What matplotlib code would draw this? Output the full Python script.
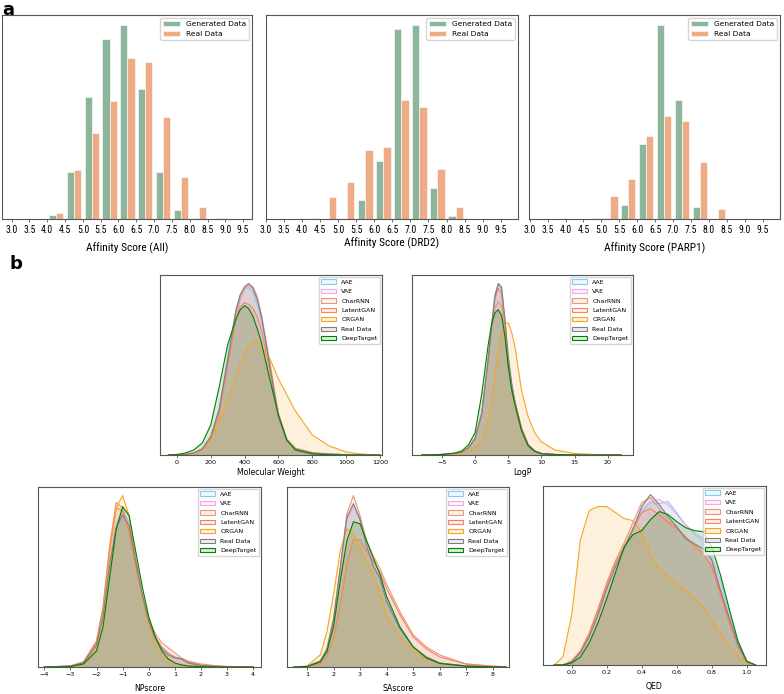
import numpy as np
import matplotlib.pyplot as plt
from matplotlib import font_manager, colors

# ---------------- panel a : affinity score histograms ----------------
# left edge of each 0.5-wide bin
bin_left = [3.0, 3.5, 4.0, 4.5, 5.0, 5.5, 6.0, 6.5, 7.0, 7.5, 8.0, 8.5, 9.0, 9.5]
all_gen = [0, 0, 13, 142, 367, 539, 582, 391, 142, 28, 3, 0, 0, 0]
all_real = [0, 0, 18, 147, 259, 355, 482, 471, 307, 126, 37, 4, 0, 0]
drd2_gen = [0, 0, 0, 0, 0, 57, 175, 568, 582, 94, 9, 0, 0, 0]
drd2_real = [0, 0, 2, 65, 112, 208, 217, 357, 336, 151, 35, 0, 0, 0]
parp1_gen = [0, 0, 0, 0, 3, 43, 226, 582, 358, 37, 0, 0, 0, 0]
parp1_real = [0, 0, 1, 4, 69, 121, 249, 309, 293, 172, 31, 0, 0, 0]
hist_ticks = [3.0, 3.5, 4.0, 4.5, 5.0, 5.5, 6.0, 6.5, 7.0, 7.5, 8.0, 8.5, 9.0, 9.5]

# ---------------- panel b : property density curves ----------------
models = ['AAE', 'VAE', 'CharRNN', 'LatentGAN', 'ORGAN', 'Real Data', 'DeepTarget']

# Molecular Weight
mw_x = [-50, 0, 50, 100, 150, 200, 250, 300, 350, 375, 400, 425, 450, 475, 500, 550, 600, 650, 700, 800, 900, 1000, 1100, 1200]
mw_aae = [0, 0, 0.5, 2, 6, 19, 47, 98, 146, 160, 166, 167, 162, 150, 134, 86, 37, 14, 6, 2, 0.8, 0.3, 0, 0]
mw_vae = [0, 0, 0.5, 2, 6, 18, 44, 93, 142, 158, 166, 168, 165, 153, 137, 88, 38, 14, 6, 2, 0.8, 0.3, 0, 0]
mw_charrnn = [0, 0, 0.5, 2, 5, 16, 40, 88, 138, 156, 166, 170, 168, 158, 140, 92, 42, 16, 7, 2.5, 1, 0.3, 0, 0]
mw_latentgan = [0, 0, 0.5, 2, 6, 18, 44, 90, 136, 148, 152, 150, 146, 138, 124, 84, 38, 15, 6, 2, 0.8, 0.3, 0, 0]
mw_organ = [0, 0, 0.5, 2, 6, 14, 34, 55, 80, 92, 102, 110, 114, 115, 108, 96, 76, 60, 44, 20, 9, 3, 0.8, 0]
mw_real = [0, 0, 0.5, 2, 6, 18, 45, 95, 145, 160, 168, 171, 166, 155, 138, 88, 38, 14, 6, 2, 0.8, 0.3, 0, 0]
mw_deeptarget = [0, 0.5, 2, 5, 12, 30, 68, 110, 136, 145, 149, 146, 138, 126, 112, 75, 40, 15, 5, 1, 0.3, 0, 0, 0]

# LogP
logp_x = [-8, -5, -3, -2, -1, 0, 1, 2, 2.5, 3, 3.5, 4, 4.5, 5, 5.5, 6, 7, 8, 9, 10, 12, 15, 18, 22]
logp_aae = [0, 0.5, 1.5, 3, 7, 16, 41, 97, 130, 159, 169, 164, 132, 96, 70, 52, 25, 10, 4, 1.5, 0.5, 0, 0, 0]
logp_vae = [0, 0.5, 1.5, 3, 7, 15, 39, 93, 126, 156, 170, 167, 134, 97, 71, 53, 26, 10, 4, 1.5, 0.5, 0, 0, 0]
logp_charrnn = [0, 0.5, 1.5, 3, 7, 17, 42, 94, 124, 146, 152, 148, 122, 92, 70, 54, 27, 11, 4, 1.5, 0.5, 0, 0, 0]
logp_latentgan = [0, 0.5, 1.5, 3, 7, 16, 41, 96, 128, 155, 165, 160, 128, 94, 69, 53, 26, 10, 4, 1.5, 0.5, 0, 0, 0]
logp_organ = [0, 0.3, 0.8, 1.5, 3, 7, 15, 35, 52, 80, 104, 120, 130, 131, 122, 108, 64, 38, 22, 13, 5, 1.5, 0.5, 0]
logp_real = [0, 0.5, 1.5, 3, 7, 16, 40, 95, 128, 158, 170, 166, 135, 98, 72, 52, 26, 10, 4, 1.5, 0.5, 0, 0, 0]
logp_deeptarget = [0, 0.5, 2, 4, 10, 22, 60, 110, 130, 141, 144, 138, 118, 88, 65, 50, 24, 9, 3.5, 1.2, 0.4, 0, 0, 0]

# NPscore
np_x = [-4, -3, -2.5, -2, -1.75, -1.5, -1.25, -1, -0.75, -0.5, -0.25, 0, 0.25, 0.5, 0.75, 1, 1.25, 1.5, 2, 2.5, 3, 4]
np_aae = [0, 0.8, 4, 22, 52, 104, 142, 155, 143, 107, 73, 45, 28, 18, 12, 9, 8, 4, 1.5, 0.6, 0.2, 0]
np_vae = [0, 0.8, 4, 23, 53, 105, 143, 153, 141, 106, 72, 45, 28, 18, 12, 9, 8, 4, 1.5, 0.6, 0.2, 0]
np_charrnn = [0, 1, 5, 26, 60, 120, 163, 158, 135, 102, 72, 48, 33, 24, 19, 14, 9, 6, 3, 1.5, 0.6, 0]
np_latentgan = [0, 1, 5, 25, 58, 116, 158, 155, 134, 100, 70, 46, 30, 20, 14, 10, 8, 5, 2, 1, 0.4, 0]
np_organ = [0, 0.5, 3, 20, 52, 112, 158, 170, 150, 108, 70, 40, 22, 12, 7, 4, 2.5, 1.5, 0.5, 0.2, 0, 0]
np_real = [0, 0.8, 4, 22, 50, 100, 138, 151, 140, 105, 72, 45, 28, 18, 12, 9, 8, 4, 1.5, 0.6, 0.2, 0]
np_deeptarget = [0, 0.5, 3, 16, 40, 88, 136, 159, 150, 115, 80, 50, 30, 16, 8, 4, 2, 1, 0.3, 0.1, 0, 0]

# SAscore
sa_x = [0.5, 1, 1.5, 1.75, 2, 2.25, 2.5, 2.75, 3, 3.25, 3.5, 3.75, 4, 4.5, 5, 5.5, 6, 7, 8, 8.5]
sa_aae = [0, 0.5, 6, 18, 47, 97, 147, 161, 147, 121, 101, 88, 66, 38, 20, 10, 4, 1, 0.2, 0]
sa_vae = [0, 0.5, 6, 17, 46, 95, 145, 160, 146, 121, 101, 89, 66, 39, 20, 10, 4, 1, 0.2, 0]
sa_charrnn = [0, 0.5, 5, 16, 45, 96, 152, 170, 150, 125, 110, 98, 82, 55, 32, 20, 12, 3, 0.8, 0.3]
sa_latentgan = [0, 0.3, 3, 10, 28, 62, 102, 127, 126, 115, 105, 94, 78, 52, 30, 18, 10, 3, 0.8, 0.3]
sa_organ = [0, 1, 12, 35, 72, 115, 137, 132, 118, 105, 92, 72, 52, 30, 16, 8, 3.5, 1, 0.2, 0]
sa_real = [0, 0.5, 6, 18, 48, 98, 148, 162, 146, 120, 100, 88, 65, 38, 20, 10, 4, 1, 0.2, 0]
sa_deeptarget = [0, 0.5, 5, 15, 40, 85, 125, 144, 142, 125, 108, 92, 70, 40, 20, 9, 3.5, 0.8, 0.1, 0]

# QED
qed_x = [-0.1, -0.05, 0, 0.05, 0.1, 0.15, 0.2, 0.25, 0.3, 0.35, 0.4, 0.45, 0.5, 0.55, 0.6, 0.65, 0.7, 0.75, 0.8, 0.85, 0.9, 0.95, 1.0, 1.05]
qed_aae = [0, 0, 3, 12, 28, 50, 76, 98, 116, 135, 152, 162, 161, 163, 152, 140, 132, 126, 108, 85, 52, 22, 3, 0]
qed_vae = [0, 0, 3, 12, 28, 50, 76, 98, 117, 136, 155, 163, 165, 160, 150, 140, 130, 124, 105, 78, 48, 20, 3, 0]
qed_charrnn = [0, 0, 4, 14, 32, 56, 82, 104, 122, 142, 162, 167, 156, 144, 137, 128, 118, 110, 100, 74, 45, 19, 3, 0]
qed_latentgan = [0, 0, 4, 14, 31, 54, 80, 102, 118, 136, 152, 156, 150, 142, 136, 128, 120, 112, 98, 70, 42, 18, 3, 0]
qed_organ = [0, 8, 50, 125, 154, 158, 158, 152, 146, 144, 132, 110, 96, 88, 82, 75, 68, 58, 45, 32, 19, 9, 2, 0]
qed_real = [0, 0, 3, 12, 28, 50, 76, 98, 116, 135, 158, 170, 160, 148, 138, 126, 121, 116, 105, 74, 47, 21, 3, 0]
qed_deeptarget = [0, 0, 2, 8, 22, 42, 66, 92, 118, 130, 134, 145, 153, 150, 143, 137, 134, 133, 118, 90, 56, 24, 4, 0]

# colours
gen_color = '#8db59b'
real_color = '#eeac86'
model_colors = ['#87ceeb', '#f3a8e6', '#e9967a', '#f4845f', '#f5a623', 'grey', 'green']

# panel a uses a narrow face for ticks and axis labels
names = {f.name for f in font_manager.fontManager.ttflist}
narrow_fam = None
for cand in ['Liberation Sans Narrow', 'Roboto Condensed', 'Open Sans Condensed', 'DejaVu Sans Condensed']:
    if cand in names:
        narrow_fam = cand
        break
cond_stretch = any(f.name == 'DejaVu Sans' and f.stretch == 'condensed' for f in font_manager.fontManager.ttflist)
if narrow_fam is not None:
    narrow_kw = dict(family=narrow_fam)
    tick_fs, lab_fs = 7, 8.2
elif cond_stretch:
    narrow_kw = dict(family='DejaVu Sans', stretch='condensed')
    tick_fs, lab_fs = 6, 6.8
else:
    narrow_kw = dict(family='DejaVu Sans')
    tick_fs, lab_fs = 4.6, 5.8

fig = plt.figure(figsize=(7.84, 6.94), dpi=100)


def style_spines(ax):
    for s in ax.spines.values():
        s.set_color('#555555')
        s.set_linewidth(0.8)


# ---- panel a
hist_sets = [
    (all_gen, all_real, 'Affinity Score (All)', (2.73, 9.75), 5.8),
    (drd2_gen, drd2_real, 'Affinity Score (DRD2)', (3.0, 9.98), 2.0),
    (parp1_gen, parp1_real, 'Affinity Score (PARP1)', (2.98, 9.98), 5.8),
]
hist_pos = [[0.0026, 0.6844, 0.3189, 0.2939],
            [0.3393, 0.6844, 0.3214, 0.2939],
            [0.6747, 0.6844, 0.3202, 0.2939]]

left = np.array(bin_left)
for pos, (gen, real, label, xl, lpad) in zip(hist_pos, hist_sets):
    ax = fig.add_axes(pos)
    ax.bar(left + 0.05, gen, width=0.2, align='edge', color=gen_color,
           edgecolor='white', linewidth=0.4, label='Generated Data')
    ax.bar(left + 0.25, real, width=0.2, align='edge', color=real_color,
           edgecolor='white', linewidth=0.4, label='Real Data')
    ax.set_xlim(*xl)
    ax.set_ylim(0, max(max(gen), max(real)) * 1.05)
    ax.set_xticks(hist_ticks)
    ax.set_xticklabels([f'{t:.1f}' for t in hist_ticks], fontsize=tick_fs, **narrow_kw)
    ax.set_yticks([])
    ax.tick_params(axis='x', length=2, width=0.6, pad=2, color='#555555')
    ax.set_xlabel(label, fontsize=lab_fs, labelpad=lpad, **narrow_kw)
    style_spines(ax)
    ax.legend(loc='upper right', fontsize=5.4, handlelength=2.2, labelspacing=0.45,
              borderaxespad=0.4, framealpha=0.8)

# ---- panel b
kde_sets = [
    ('Molecular Weight', mw_x, [mw_aae, mw_vae, mw_charrnn, mw_latentgan, mw_organ, mw_real, mw_deeptarget],
     (-100, 1213), [0, 200, 400, 600, 800, 1000, 1200], 2.0),
    ('LogP', logp_x, [logp_aae, logp_vae, logp_charrnn, logp_latentgan, logp_organ, logp_real, logp_deeptarget],
     (-9.5, 23.8), [-5, 0, 5, 10, 15, 20], 2.0),
    ('NPscore', np_x, [np_aae, np_vae, np_charrnn, np_latentgan, np_organ, np_real, np_deeptarget],
     (-4.24, 4.3), [-4, -3, -2, -1, 0, 1, 2, 3, 4], 5.0),
    ('SAscore', sa_x, [sa_aae, sa_vae, sa_charrnn, sa_latentgan, sa_organ, sa_real, sa_deeptarget],
     (0.245, 8.62), [1, 2, 3, 4, 5, 6, 7, 8], 5.0),
    ('QED', qed_x, [qed_aae, qed_vae, qed_charrnn, qed_latentgan, qed_organ, qed_real, qed_deeptarget],
     (-0.164, 1.11), [0.0, 0.2, 0.4, 0.6, 0.8, 1.0], 5.0),
]
kde_pos = [[0.2041, 0.3444, 0.2832, 0.2594],
           [0.5255, 0.3444, 0.2819, 0.2594],
           [0.0485, 0.0389, 0.2844, 0.2594],
           [0.3661, 0.0389, 0.2832, 0.2594],
           [0.6926, 0.0418, 0.2844, 0.2579]]

for pos, (label, xs, curves, xl, ticks, lpad) in zip(kde_pos, kde_sets):
    ax = fig.add_axes(pos)
    for name, ys, c in zip(models, curves, model_colors):
        ax.fill_between(xs, ys, facecolor=c, alpha=0.15, edgecolor='none')
        ax.plot(xs, ys, color=c, lw=0.8)
    handles = [plt.Rectangle((0, 0), 1, 1, facecolor=(*colors.to_rgb(c), 0.15),
                             edgecolor=c, lw=0.8) for c in model_colors]
    ax.set_xlim(*xl)
    ax.set_ylim(0, max(max(ys) for ys in curves) * 1.05)
    ax.set_xticks(ticks)
    if label == 'QED':
        ax.set_xticklabels([f'{t:.1f}' for t in ticks])
    ax.set_yticks([])
    ax.tick_params(axis='x', length=2, width=0.6, pad=1.5, labelsize=4.6, color='#555555')
    ax.set_xlabel(label, fontsize=5.6, labelpad=lpad)
    style_spines(ax)
    ax.legend(handles, models, loc='upper right', fontsize=4.5, borderaxespad=0.3,
              handlelength=2.4, labelspacing=0.65, framealpha=0.8)

fig.text(0.003, 0.998, 'a', fontsize=13, fontweight='bold', va='top', ha='left')
fig.text(0.012, 0.632, 'b', fontsize=13, fontweight='bold', va='top', ha='left')

fig.savefig('out.png', dpi=100)
